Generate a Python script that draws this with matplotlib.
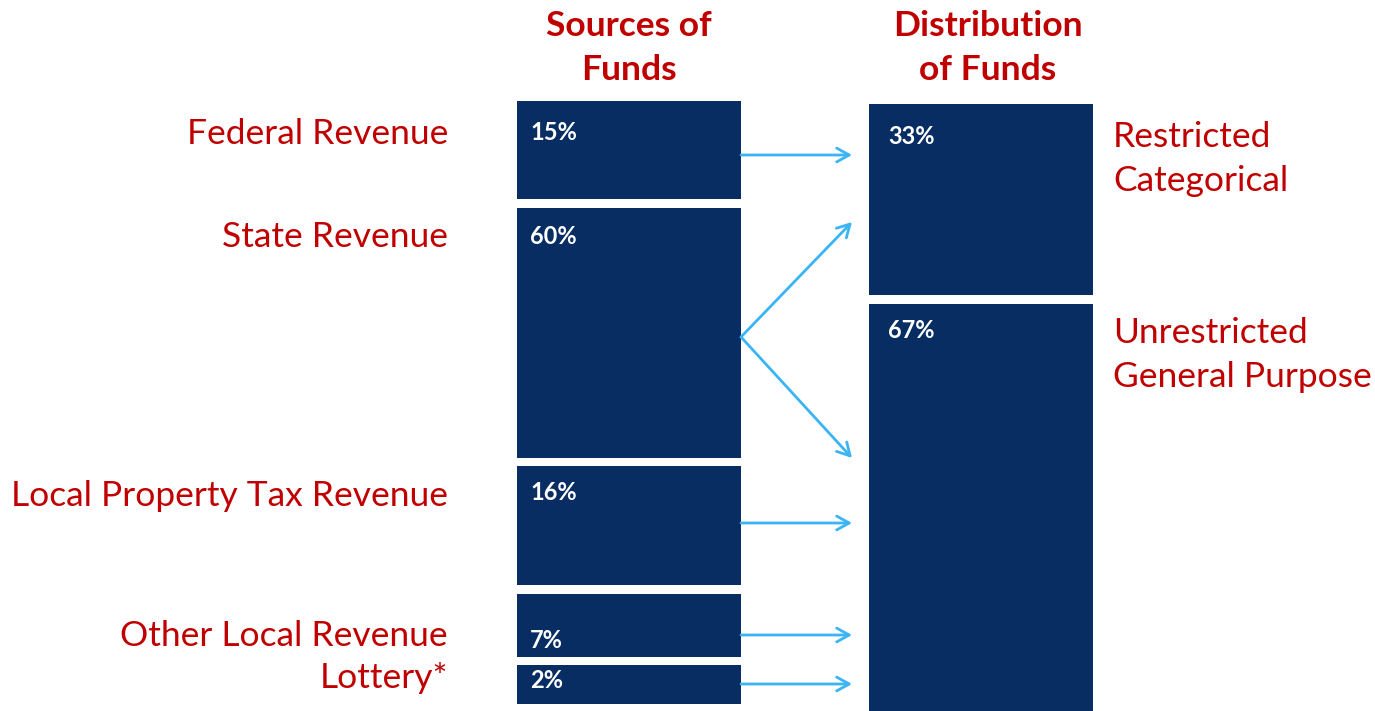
import matplotlib.pyplot as plt
from matplotlib.patches import Rectangle, FancyArrowPatch

plt.rcParams['font.family'] = ['Lato', 'DejaVu Sans']

# data
sources = ['Federal Revenue', 'State Revenue', 'Local Property Tax Revenue',
           'Other Local Revenue', 'Lottery*']
source_pct = [15, 60, 16, 7, 2]
source_block = [98, 250, 119, 63, 39]   # drawn block heights (not to scale)
uses = ['Restricted\nCategorical', 'Unrestricted\nGeneral Purpose']
use_pct = [33, 67]
use_block = [191, 407]
# which use each source flows into (index list)
flows = [[0], [0, 1], [1], [1], [1]]

navy = '#072D62'
red = '#C00000'
blue = '#3AB4F2'

fig = plt.figure(figsize=(13.75, 7.11), dpi=100)
ax = fig.add_axes([0, 0, 1, 1])
ax.set_xlim(0, 1375)
ax.set_ylim(711, 0)
ax.axis('off')

# left column
lx, lw = 517, 224
gap = 8.5
y = 101
for h in source_block:
    ax.add_patch(Rectangle((lx, y), lw, h, color=navy, lw=0))
    y += h + gap

# right column
rx, rw = 869, 224
y = 104
for h in use_block:
    ax.add_patch(Rectangle((rx, y), rw, h, color=navy, lw=0))
    y += h + gap

# percent labels in blocks
pct_y = [133, 236, 493, 640, 681]
for p, yy in zip(source_pct, pct_y):
    ax.text(530, yy, f'{p}%', color='white', fontsize=17, fontweight='bold',
            va='center', ha='left')
for p, yy in zip(use_pct, [136, 331]):
    ax.text(888, yy, f'{p}%', color='white', fontsize=17, fontweight='bold',
            va='center', ha='left')

fs = 25.5
# source labels
lab_y = [134, 237, 496, 636, 678]
for s, yy in zip(sources, lab_y):
    ax.text(448, yy, s, color=red, fontsize=fs, ha='right', va='center')

# use labels
for u, yy in zip(uses, [159, 355]):
    ax.text(1113, yy, u, color=red, fontsize=fs, ha='left', va='center',
            linespacing=1.45)

# headers
ax.text(629, 48, 'Sources of\nFunds', color=red, fontsize=fs, fontweight='bold',
        ha='center', va='center', linespacing=1.45)
ax.text(988, 48, 'Distribution\nof Funds', color=red, fontsize=fs,
        fontweight='bold', ha='center', va='center', linespacing=1.45)

# arrows
start_y = [155, 337, 523, 635, 684]
end_pts = {(0, 0): 155, (1, 0): 222, (1, 1): 458, (2, 1): 523,
           (3, 1): 635, (4, 1): 684}
for i, targets in enumerate(flows):
    for t in targets:
        a = FancyArrowPatch((741, start_y[i]), (852, end_pts[(i, t)]),
                            arrowstyle='->,head_length=9,head_width=5',
                            color=blue, lw=2, shrinkA=0, shrinkB=0)
        ax.add_patch(a)

fig.savefig('out.png', dpi=100)
